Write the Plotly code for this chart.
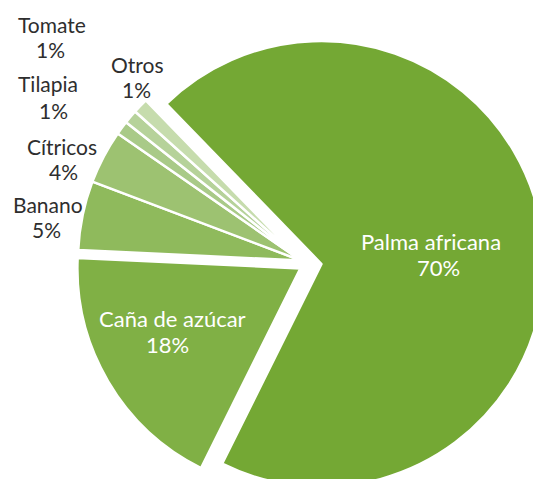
import plotly.graph_objects as go

# ---- data ----
labels = ["Palma africana", "Caña de azúcar", "Banano", "Cítricos", "Tilapia", "Tomate", "Otros"]
values = [69.6, 18.4, 5.0, 3.9, 1.0, 1.0, 1.1]
colors = ["#74A834", "#80B045", "#8FBA5C", "#9DC271", "#A9CA88", "#B6D29A", "#C6DCAD"]
exploded = ["Palma africana", "Caña de azúcar"]

# ---- layout geometry (pixels) ----
W, H = 560, 500
R = 223
ROTATION = -44.1
# centre of each drawn group: the un-exploded slices and each exploded slice
centers = {
    "rest": (301, 260.5),
    "Palma africana": (321.5, 264),
    "Caña de azúcar": (300.4, 268.4),
}

# label line positions: (name x, name y, pct x, pct y, colour, font size)
label_pos = {
    "Palma africana": (431, 241, 438, 267.5, "white", 22),
    "Caña de azúcar": (172, 318.5, 167, 344.5, "white", 22),
    "Banano": (47.5, 204.5, 46.5, 229.5, "#2E2E2E", 21),
    "Cítricos": (62, 146, 63.5, 171, "#2E2E2E", 21),
    "Tilapia": (48.3, 83, 53.3, 110.3, "#2E2E2E", 21),
    "Tomate": (52, 24.5, 50, 50, "#2E2E2E", 21),
    "Otros": (137.5, 64, 136.5, 89.5, "#2E2E2E", 21),
}

fig = go.Figure()
for group, (cx, cy) in centers.items():
    if group == "rest":
        show = [lab not in exploded for lab in labels]
    else:
        show = [lab == group for lab in labels]
    fig.add_trace(go.Pie(
        labels=labels,
        values=values,
        sort=False,
        direction="clockwise",
        rotation=ROTATION,
        marker=dict(
            colors=[c if s else "rgba(0,0,0,0)" for c, s in zip(colors, show)],
            line=dict(color="white", width=[2.5 if s else 0 for s in show]),
        ),
        textinfo="none",
        hoverinfo="label+percent",
        domain=dict(x=[(cx - R) / W, (cx + R) / W],
                    y=[1 - (cy + R) / H, 1 - (cy - R) / H]),
        showlegend=False,
    ))

total = sum(values)
for lab, val in zip(labels, values):
    nx, ny, qx, qy, col, size = label_pos[lab]
    for txt, px, py in ((lab, nx, ny), (f"{round(100 * val / total)}%", qx, qy)):
        fig.add_annotation(
            x=px / W, y=1 - py / H, xref="paper", yref="paper",
            text=txt, showarrow=False,
            xanchor="center", yanchor="middle", align="center",
            font=dict(family="Lato", size=size, color=col),
        )

fig.update_layout(
    width=W, height=H,
    margin=dict(l=0, r=0, t=0, b=0),
    paper_bgcolor="white", plot_bgcolor="white",
    font=dict(family="Lato"),
)

fig.write_html(
    "out.html",
    config={"displayModeBar": False},
    post_script="document.body.style.margin='0';document.body.style.overflow='hidden';",
)
